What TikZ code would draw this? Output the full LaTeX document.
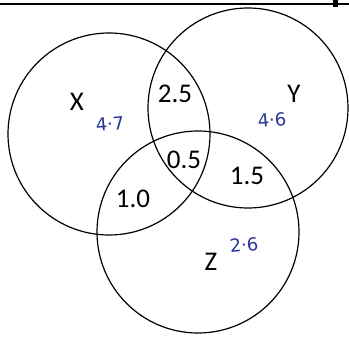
\documentclass[tikz,border=0pt]{standalone}
\usepackage{fontspec}
\setmainfont{Carlito}
\newfontfamily\handfont{DejaVu Sans}
\definecolor{inkBlue}{RGB}{40,52,150}
\tikzset{vennpanel/.style={
  x=1pt, y=-1pt,
  setc/.style={circle, draw=black, line width=1.2pt, inner sep=0pt},
  setlab/.style={font=\fontsize{27}{30}\selectfont, inner sep=1pt},
  region/.style={font=\fontsize{27}{30}\selectfont, inner sep=1pt},
  hand/.style={font=\handfont\fontsize{18}{20}\selectfont, text=inkBlue, inner sep=1pt},
  rule/.style={line width=1.4pt},
}}

\begin{document}
\begin{tikzpicture}[vennpanel]
\useasboundingbox (0,0) rectangle (349,339);
% =====================================================================
%  top rule of the page
% =====================================================================
\coordinate (ruleL) at (0,4);
\coordinate (ruleR) at (349,4);
\draw[rule] (ruleL) -- (ruleR);
\fill (333,0) rectangle (338,7);

% =====================================================================
%  the three sets
% =====================================================================
\node[setc, minimum size=202pt] (setX) at (109,134) {};
\node[setc, minimum size=200pt] (setY) at (248,108) {};
\node[setc, minimum size=202pt] (setZ) at (198,232) {};

\node[setlab] (labX) at (77,102) {X};
\node[setlab] (labY) at (294,94) {Y};
\node[setlab] (labZ) at (211,262) {Z};

% overlaps
\node[region] (rXY)  at (175,94)  {2.5};
\node[region] (rXYZ) at (184,160) {0.5};
\node[region] (rYZ)  at (247,176) {1.5};
\node[region] (rXZ)  at (133,199) {1.0};

% pencilled totals
\node[hand, rotate=5] (tX) at (110,124) {4·7};
\node[hand, rotate=5] (tY) at (272,120) {4·6};
\node[hand, rotate=5] (tZ) at (244,245) {2·6};
\end{tikzpicture}
\end{document}
